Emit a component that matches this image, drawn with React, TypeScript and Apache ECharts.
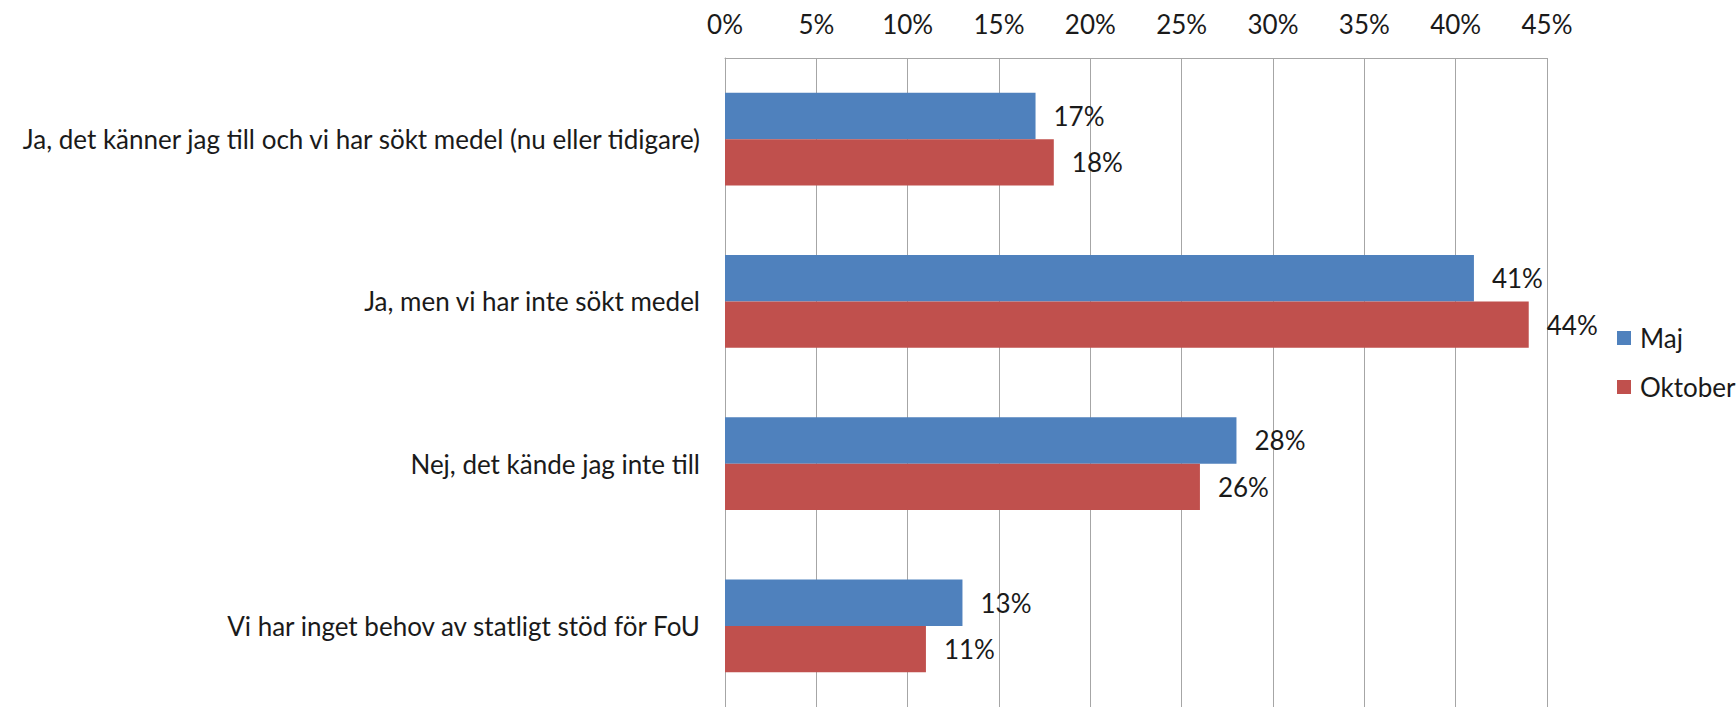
import React, { useEffect, useRef } from "react";
import * as echarts from "echarts";

const categories = [
  "Ja, det känner jag till och vi har sökt medel (nu eller tidigare)",
  "Ja, men vi har inte sökt medel",
  "Nej, det kände jag inte till",
  "Vi har inget behov av statligt stöd för FoU",
];
const seriesNames = ["Maj", "Oktober"];
const majValues = [17, 41, 28, 13];
const oktoberValues = [18, 44, 26, 11];
const axisMin = 0;
const axisMax = 45;
const axisStep = 5;

const FONT = "Lato";
const FS = 26;
const TEXT = "#1a1a1a";
const GRID = "#a6a6a6";

export default function App() {
  const ref = useRef<HTMLDivElement>(null);
  useEffect(() => {
    if (!ref.current) return;
    const chart = echarts.init(ref.current, null, { renderer: "svg" });
    const label = {
      show: true,
      position: "right" as const,
      distance: 18,
      formatter: "{c}%",
      color: TEXT,
      fontFamily: FONT,
      fontSize: FS,
    };
    chart.setOption({
      animation: false,
      backgroundColor: "#ffffff",
      textStyle: { fontFamily: FONT },
      legend: {
        orient: "vertical",
        left: 1617,
        top: 325,
        padding: 0,
        itemWidth: 14,
        itemHeight: 14,
        itemGap: 23,
        icon: "rect",
        data: seriesNames,
        textStyle: { color: TEXT, fontFamily: FONT, fontSize: FS, padding: [0, 0, 0, 4] },
      },
      grid: { left: 725, right: 189, top: 58, bottom: -1.5, containLabel: false },
      xAxis: {
        type: "value",
        position: "top",
        min: axisMin,
        max: axisMax,
        interval: axisStep,
        axisLine: { show: true, lineStyle: { color: GRID, width: 1 } },
        axisTick: { show: false },
        axisLabel: {
          formatter: "{value}%",
          color: TEXT,
          fontFamily: FONT,
          fontSize: FS,
          margin: 21,
        },
        splitLine: { show: true, lineStyle: { color: GRID, width: 1 } },
      },
      yAxis: {
        type: "category",
        data: categories,
        inverse: true,
        axisLine: { show: true, lineStyle: { color: GRID, width: 1 } },
        axisTick: { show: false },
        axisLabel: {
          color: TEXT,
          fontFamily: FONT,
          fontSize: FS,
          margin: 25,
        },
      },
      series: [
        {
          name: seriesNames[0],
          type: "bar",
          data: majValues,
          itemStyle: { color: "#4f81bd" },
          barGap: "0%",
          barCategoryGap: "42.8%",
          label,
        },
        {
          name: seriesNames[1],
          type: "bar",
          data: oktoberValues,
          itemStyle: { color: "#c0504d" },
          barGap: "0%",
          barCategoryGap: "42.8%",
          label,
        },
      ],
    });
    return () => chart.dispose();
  }, []);
  return <div ref={ref} style={{ width: 1736, height: 707, position: "absolute", left: 0, top: 0 }} />;
}
